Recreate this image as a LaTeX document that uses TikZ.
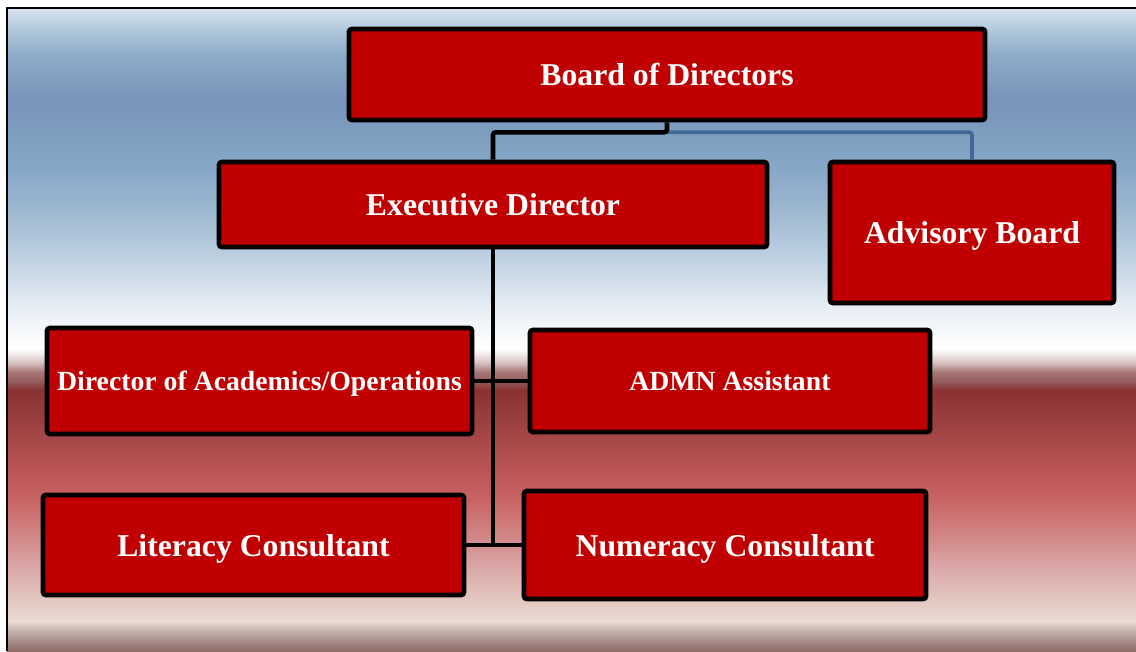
\documentclass[tikz,border=0pt]{standalone}
\usepackage{fontspec}
\setmainfont{Liberation Serif}
\usepackage{xcolor}
\definecolor{ORred}{HTML}{C00000}
\definecolor{ORblue}{HTML}{416898}
% background bands, top to bottom
\definecolor{bgTop}{HTML}{D8E4EF}
\definecolor{bgSkyA}{HTML}{B0C8DC}
\definecolor{bgSkyB}{HTML}{8EACC9}
\definecolor{bgSkyC}{HTML}{7A93BA}
\definecolor{bgSkyD}{HTML}{7D9DBF}
\definecolor{bgSkyE}{HTML}{88A8C8}
\definecolor{bgSkyF}{HTML}{A0BAD2}
\definecolor{bgSkyG}{HTML}{C0D2E2}
\definecolor{bgSkyH}{HTML}{DAE4EE}
\definecolor{bgSkyI}{HTML}{F0F4F8}
\definecolor{bgWhite}{HTML}{FFFFFF}
\definecolor{bgRedA}{HTML}{F2EAEA}
\definecolor{bgRedB}{HTML}{D8C4C4}
\definecolor{bgRedC}{HTML}{A87878}
\definecolor{bgRedD}{HTML}{935A5A}
\definecolor{bgRedE}{HTML}{8A3232}
\definecolor{bgRedF}{HTML}{9A4040}
\definecolor{bgRedG}{HTML}{BB5555}
\definecolor{bgRedH}{HTML}{C86464}
\definecolor{bgRedI}{HTML}{D08080}
\definecolor{bgRedJ}{HTML}{D8A0A0}
\definecolor{bgRedK}{HTML}{E0BEB8}
\definecolor{bgRedL}{HTML}{EADCD4}
\definecolor{bgFootA}{HTML}{D0C0BA}
\definecolor{bgFootB}{HTML}{B8A49E}
\definecolor{bgFootC}{HTML}{A08480}
\definecolor{bgFootD}{HTML}{906C66}
\usepackage{tikz}
\pgfdeclareverticalshading{orgbg}{100bp}{
  color(0bp)=(bgFootD); color(25bp)=(bgFootD); color(25.62bp)=(bgFootC);
  color(26.24bp)=(bgFootB); color(26.87bp)=(bgFootA); color(27.33bp)=(bgRedL);
  color(29.74bp)=(bgRedK); color(32.08bp)=(bgRedJ); color(34.41bp)=(bgRedI);
  color(36.74bp)=(bgRedH); color(39.07bp)=(bgRedG); color(42.96bp)=(bgRedF);
  color(45.30bp)=(bgRedE); color(45.92bp)=(bgRedD); color(46.70bp)=(bgRedC);
  color(47.47bp)=(bgRedB); color(48.09bp)=(bgRedA); color(48.56bp)=(bgWhite);
  color(50.74bp)=(bgSkyI); color(53.07bp)=(bgSkyH); color(55.40bp)=(bgSkyG);
  color(58.90bp)=(bgSkyF); color(62.40bp)=(bgSkyE); color(65.51bp)=(bgSkyD);
  color(67.85bp)=(bgSkyC); color(71.35bp)=(bgSkyB); color(73.29bp)=(bgSkyA);
  color(75bp)=(bgTop); color(100bp)=(bgTop)}

\begin{document}
\begin{tikzpicture}[
  x=0.75pt, y=-0.75pt,
  box/.style={
    draw=black, line width=3.4pt, rounded corners=2pt,
    fill=ORred, text=white, align=center, inner sep=2pt, text depth=0pt,
    font=\bfseries\fontsize{23.8}{28}\selectfont
  },
  smalltext/.style={font=\bfseries\fontsize{20.8}{25}\selectfont},
  link/.style={draw=black, line width=3.4pt, rounded corners=2pt},
  bluelink/.style={draw=ORblue, line width=2.7pt, rounded corners=2pt},
]

% Page and background
\fill[white] (0,0) rectangle (1136,651);
\useasboundingbox (0,0) rectangle (1136,651);
\shade[shading=orgbg] (7,8) rectangle (1136,651);
\draw[line width=1pt] (7,651) -- (7,8) -- (1136,8);

% Top level
\node[box, minimum width=477pt, minimum height=68.25pt] (board) at (667,74.5) {Board of Directors};

% Second level
\node[box, minimum width=411pt, minimum height=63.75pt] (exec) at (493,204.5) {Executive Director};
\node[box, minimum width=213pt, minimum height=105.75pt] (advisory) at (972,232.5) {Advisory Board};

% Staff
\node[box, smalltext, minimum width=318.75pt, minimum height=79.5pt] (diracad) at (259.5,381)
  {Director of Academics/Operations};
\node[box, smalltext, minimum width=300pt, minimum height=76.5pt] (admn) at (730,381) {ADMN Assistant};
\node[box, minimum width=315.75pt, minimum height=75pt] (literacy) at (253.5,545) {Literacy Consultant};
\node[box, minimum width=301.5pt, minimum height=81pt] (numeracy) at (725,545) {Numeracy Consultant};

% Connectors
\path (board.south) ++(0,10) coordinate (split);
\draw[bluelink] (split) -| (advisory.north);
\draw[link] (board.south) -- (split) -| (exec.north);
\draw[link] (exec.south) -- (exec.south |- literacy.east);
\draw[link] (diracad.east) -- (admn.west);
\draw[link] (literacy.east) -- (numeracy.west);

\end{tikzpicture}
\end{document}
